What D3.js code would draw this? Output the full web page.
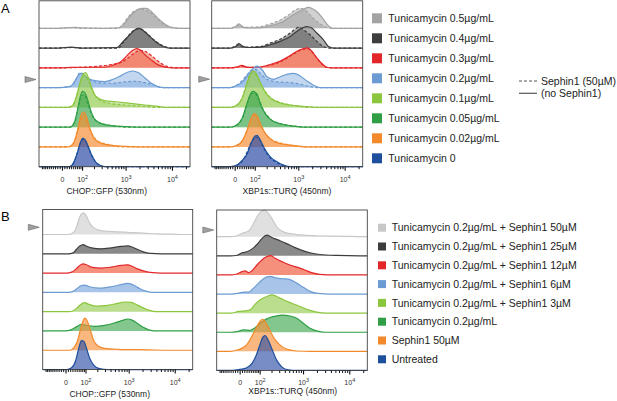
<!DOCTYPE html>
<html>
<head>
<meta charset="utf-8">
<script src="https://cdn.jsdelivr.net/npm/d3@7"></script>
<style>
body { margin: 0; background: #fff; }
svg { display: block; font-family: "Liberation Sans", Arial, sans-serif; }
</style>
</head>
<body>
<svg id="chart" width="617" height="401"></svg>
<script>
// legend labels
const labelsA = ["Tunicamycin 0.5µg/mL", "Tunicamycin 0.4µg/mL", "Tunicamycin 0.3µg/mL", "Tunicamycin 0.2µg/mL",
  "Tunicamycin 0.1µg/mL", "Tunicamycin 0.05µg/mL", "Tunicamycin 0.02µg/mL", "Tunicamycin 0"];
const labelsB = ["Tunicamycin 0.2µg/mL + Sephin1 50µM", "Tunicamycin 0.2µg/mL + Sephin1 25µM",
  "Tunicamycin 0.2µg/mL + Sephin1 12µM", "Tunicamycin 0.2µg/mL + Sephin1 6µM",
  "Tunicamycin 0.2µg/mL + Sephin1 3µM", "Tunicamycin 0.2µg/mL", "Sephin1 50µM", "Untreated"];
const styleLabels = ["Sephin1 (50µM)", "(no Sephin1)"];

// axis ticks (raw fluorescence)
const majorTicks = [0, 100, 1000, 10000];
const majorLabels = [["0", ""], ["10", "2"], ["10", "3"], ["10", "4"]];
const minorTicks = [-100, -90, -80, -70, -60, -50, -40, -30, -20, -10, 10, 20, 30, 40, 50, 60, 70, 80, 90,
  200, 300, 400, 500, 600, 700, 800, 900, 2000, 3000, 4000, 5000, 6000, 7000, 8000, 9000, 20000];
const xDomain = [-120, 24500];

// histograms: [fluorescence, height in row units], one list per row, top to bottom
const chopA_solid = [
  [[-16,0],[27,0.03],[59,0.05],[97,0.02],[350,0],[690,0.02],[890,0.17],[1140,0.5],[1580,0.84],[2200,1.01],[2820,1.01],[3610,0.84],[5020,0.5],[6980,0.22],[9730,0.05],[16000,0]],
  [[-16,0],[42,0.05],[97,0],[640,0.02],[890,0.34],[1230,0.67],[1580,0.92],[1930,1.01],[2390,0.89],[3320,0.59],[4620,0.29],[6430,0.08],[8950,0]],
  [[-16,0],[42,0.02],[146,0.03],[354,0.03],[585,0.17],[816,0.34],[1046,0.59],[1340,0.84],[1717,0.97],[2025,0.92],[2594,0.67],[3606,0.39],[5023,0.15],[7585,0.03],[9727,0]],
  [[-16,0],[34,0.05],[59,0.34],[77,0.62],[97,0.72],[119,0.59],[160,0.42],[229,0.34],[354,0.3],[538,0.42],[816,0.62],[1136,0.79],[1456,0.84],[1866,0.76],[2594,0.5],[3606,0.22],[5023,0.05],[6982,0]],
  [[27,0],[50,0.12],[68,0.59],[87,1.26],[108,1.68],[124,1.76],[146,1.51],[176,1.01],[210,0.62],[273,0.42],[354,0.34],[585,0.29],[1136,0.22],[2594,0.12],[5023,0.05],[7585,0]],
  [[34,0],[55,0.22],[73,0.89],[89,1.56],[104,1.81],[119,1.73],[140,1.39],[170,0.81],[210,0.39],[298,0.18],[494,0.08],[963,0.03],[1866,0]],
  [[27,0],[50,0.17],[68,0.67],[83,1.26],[97,1.68],[112,1.76],[132,1.51],[160,0.92],[193,0.5],[250,0.25],[419,0.1],[963,0.03],[1866,0]],
  [[34,0],[50,0.17],[68,0.59],[87,1.17],[104,1.43],[119,1.38],[146,1.01],[176,0.59],[217,0.25],[273,0.07],[354,0]]
];
const chopA_dashed = [
  [[-16,0],[42,0.03],[97,0],[692,0],[887,0.22],[1234,0.67],[1717,0.92],[2198,0.96],[3062,0.87],[4256,0.59],[5916,0.29],[8241,0.08],[13521,0]],
  [[-16,0],[42,0.03],[97,0],[692,0],[930,0.34],[1300,0.76],[1717,0.96],[2130,0.96],[2818,0.76],[3917,0.45],[5450,0.2],[7585,0.05],[9727,0]],
  [[-16,0],[77,0.02],[250,0.08],[494,0.17],[816,0.29],[1136,0.5],[1581,0.76],[2025,0.89],[2594,0.84],[3606,0.62],[5023,0.34],[6982,0.12],[9727,0.02],[12440,0]],
  [[-16,0],[42,0.08],[68,0.5],[87,0.76],[108,0.67],[146,0.45],[250,0.25],[494,0.22],[963,0.29],[1581,0.32],[2594,0.25],[4256,0.12],[5916,0]],
  [[27,0],[50,0.15],[73,0.76],[97,1.43],[119,1.63],[146,1.34],[193,0.76],[250,0.42],[419,0.22],[963,0.12],[2594,0.05],[5023,0]],
  [[34,0],[59,0.3],[77,1.06],[97,1.59],[115,1.64],[140,1.22],[176,0.64],[250,0.25],[494,0.08],[1340,0]],
  [[27,0],[55,0.25],[73,0.76],[91,1.34],[108,1.59],[132,1.34],[170,0.76],[229,0.34],[419,0.12],[963,0]],
  [[34,0],[55,0.25],[73,0.76],[93,1.26],[110,1.38],[132,1.21],[160,0.76],[203,0.34],[273,0.07],[385,0]]
];
const xbpA_solid = [
  [[-19,0],[4,0.08],[17,0.22],[31,0.12],[47,0.02],[93,0.02],[170,0.05],[288,0.17],[478,0.34],[669,0.59],[932,0.79],[1294,0.96],[1662,1.06],[2127,0.96],[2728,0.76],[3492,0.45],[4477,0.12],[5730,0]],
  [[-19,0],[4,0.08],[17,0.22],[31,0.12],[57,0.03],[140,0.05],[242,0.17],[405,0.34],[669,0.59],[932,0.84],[1192,1.01],[1530,1.09],[1960,1.01],[2512,0.76],[3492,0.42],[4477,0.08],[5730,0]],
  [[-19,0],[10,0.05],[31,0.12],[57,0.03],[115,0.02],[242,0.17],[405,0.34],[669,0.62],[932,0.84],[1294,0.97],[1581,1.01],[1960,0.84],[2512,0.5],[3218,0.22],[4120,0.03],[5280,0]],
  [[-19,0],[10,0.12],[31,0.25],[57,0.59],[83,0.92],[115,1.09],[154,0.92],[203,0.55],[288,0.42],[405,0.55],[566,0.67],[790,0.72],[1100,0.59],[1530,0.34],[2127,0.12],[2960,0]],
  [[-19,0],[10,0.12],[31,0.42],[52,1.09],[70,1.59],[87,1.85],[108,1.73],[140,1.26],[186,0.76],[263,0.42],[405,0.22],[669,0.12],[1294,0.05],[2512,0]],
  [[-19,0],[10,0.12],[31,0.42],[52,1.09],[70,1.59],[87,1.81],[115,1.68],[140,1.17],[186,0.67],[263,0.34],[405,0.17],[669,0.08],[1530,0]],
  [[-19,0],[17,0.12],[39,0.42],[59,0.92],[77,1.43],[97,1.68],[115,1.59],[146,1.09],[186,0.67],[263,0.34],[405,0.17],[858,0.07],[1530,0]],
  [[-19,0],[10,0.08],[31,0.3],[57,0.67],[77,1.17],[97,1.51],[115,1.59],[140,1.34],[186,0.84],[242,0.5],[342,0.25],[478,0.08],[669,0]]
];
const xbpA_dashed = [
  [[-19,0],[17,0.17],[39,0.05],[140,0.08],[242,0.22],[405,0.42],[616,0.67],[858,0.92],[1100,1.01],[1410,0.92],[1806,0.67],[2512,0.34],[3790,0.08],[5280,0]],
  [[-19,0],[17,0.17],[39,0.05],[140,0.08],[242,0.25],[405,0.45],[669,0.76],[858,0.96],[1013,1.06],[1294,0.92],[1806,0.67],[2512,0.34],[3492,0.08],[4477,0]],
  [[-19,0],[10,0.03],[31,0.08],[57,0.02],[242,0.13],[405,0.3],[669,0.59],[932,0.8],[1294,0.94],[1581,0.97],[1960,0.82],[2512,0.49],[3218,0.2],[4120,0.02],[5280,0]],
  [[-19,0],[10,0.13],[31,0.34],[57,0.67],[83,0.89],[104,0.92],[140,0.72],[203,0.42],[342,0.29],[669,0.25],[1100,0.17],[1806,0.05],[2512,0]],
  [[-19,0],[13,0.15],[36,0.59],[55,1.26],[73,1.68],[93,1.73],[119,1.51],[170,0.92],[242,0.5],[405,0.25],[858,0.08],[1806,0]],
  [[-19,0],[13,0.13],[39,0.59],[59,1.26],[77,1.68],[97,1.73],[127,1.43],[170,0.84],[242,0.42],[405,0.18],[858,0.05],[1530,0]],
  [[-19,0],[17,0.13],[42,0.5],[64,1.09],[83,1.51],[101,1.59],[127,1.31],[170,0.8],[242,0.42],[405,0.2],[858,0.05],[1530,0]],
  [[-19,0],[13,0.1],[39,0.37],[59,0.81],[83,1.31],[106,1.51],[130,1.43],[163,1.01],[221,0.54],[342,0.2],[566,0]]
];
const chopB = [
  [[12,0],[33,0.09],[48,0.34],[61,0.78],[75,1.07],[89,1.12],[106,0.95],[129,0.6],[157,0.38],[207,0.24],[293,0.17],[575,0.14],[1118,0.1],[2160,0.07],[4185,0.03],[8100,0.02],[15700,0]],
  [[12,0],[33,0.05],[48,0.22],[66,0.4],[85,0.48],[106,0.4],[143,0.31],[246,0.26],[412,0.31],[680,0.38],[947,0.41],[1214,0.34],[1554,0.22],[2160,0.09],[3010,0.02],[4940,0]],
  [[5,0],[26,0.05],[48,0.22],[66,0.4],[85,0.48],[106,0.43],[143,0.31],[246,0.26],[412,0.31],[680,0.4],[947,0.43],[1214,0.34],[1554,0.22],[2160,0.1],[3270,0.02],[4940,0]],
  [[12,0],[33,0.05],[54,0.22],[72,0.34],[95,0.38],[129,0.29],[225,0.22],[412,0.29],[680,0.4],[947,0.47],[1214,0.4],[1554,0.26],[2160,0.09],[3270,0]],
  [[12,0],[33,0.05],[54,0.22],[75,0.4],[95,0.47],[117,0.4],[190,0.29],[348,0.33],[575,0.43],[803,0.5],[1118,0.48],[1554,0.34],[2160,0.17],[3270,0.03],[4185,0]],
  [[-2,0],[26,0.07],[48,0.21],[75,0.34],[106,0.29],[173,0.24],[293,0.29],[486,0.41],[740,0.55],[947,0.62],[1214,0.55],[1554,0.38],[2160,0.17],[3010,0.03],[4185,0]],
  [[19,0],[37,0.14],[54,0.48],[70,1.09],[85,1.52],[95,1.66],[112,1.52],[137,1.0],[166,0.48],[207,0.22],[293,0.1],[575,0.05],[2550,0.02],[8100,0]],
  [[5,0],[26,0.09],[44,0.43],[61,1.12],[75,1.5],[89,1.47],[106,1.12],[129,0.6],[166,0.22],[225,0.05],[348,0]]
];
const xbpB = [
  [[-41,0],[-11,0.05],[10,0.17],[24,0.23],[39,0.3],[55,0.52],[73,0.87],[93,1.17],[115,1.34],[135,1.39],[160,1.27],[203,0.96],[263,0.52],[342,0.3],[478,0.17],[858,0.1],[1960,0.05],[7330,0.02],[19800,0]],
  [[-41,0],[-11,0.03],[10,0.16],[31,0.21],[55,0.35],[83,0.59],[115,0.9],[154,1.08],[203,0.96],[288,0.82],[440,0.64],[669,0.43],[1013,0.26],[1410,0.16],[2310,0.07],[5280,0.02],[16800,0]],
  [[-41,0],[-11,0.05],[10,0.17],[24,0.21],[39,0.12],[55,0.21],[83,0.52],[115,0.78],[154,0.96],[193,1.01],[242,0.87],[342,0.7],[520,0.52],[790,0.38],[1100,0.26],[1530,0.12],[2310,0.03],[4477,0]],
  [[-41,0],[-3,0.05],[17,0.1],[39,0.1],[64,0.31],[93,0.57],[127,0.8],[186,0.92],[263,0.83],[372,0.8],[520,0.75],[728,0.57],[1013,0.35],[1410,0.14],[2127,0.03],[3790,0]],
  [[-41,0],[-3,0.09],[24,0.12],[47,0.17],[73,0.47],[104,0.7],[154,0.87],[203,0.96],[263,0.87],[372,0.7],[566,0.52],[858,0.35],[1294,0.17],[1960,0.05],[3218,0]],
  [[-41,0],[-11,0.03],[17,0.12],[47,0.1],[73,0.24],[104,0.47],[154,0.7],[221,0.82],[342,0.9],[520,0.85],[728,0.73],[1013,0.47],[1410,0.21],[1960,0.07],[2960,0]],
  [[-41,0],[-11,0.07],[10,0.17],[31,0.35],[55,0.78],[83,1.3],[104,1.6],[119,1.68],[140,1.56],[179,1.13],[242,0.61],[342,0.26],[478,0.09],[728,0.02],[1410,0]],
  [[-41,0],[-11,0.03],[10,0.07],[31,0.14],[55,0.36],[79,0.8],[104,1.4],[122,1.75],[140,1.83],[160,1.66],[203,1.14],[263,0.54],[342,0.19],[478,0.03],[728,0]]
];

const colorsA = ["#a3a3a3", "#3d3d3d", "#e3262a", "#6b9bd2", "#8cc63f", "#2f9e44", "#f28a2c", "#1d4f9c"];
const fillsA = ["#9a9a9a", "#4a4a4a", "#ee5536", "#7aa6dd", "#96cb52", "#41a953", "#f7913a", "#2f4ea6"];
const colorsB = ["#c8c8c8"].concat(colorsA.slice(1));
const fillsB = ["#cfcfcf"].concat(fillsA.slice(1));

// logicle-like display transform (asinh)
const T = v => Math.asinh(v / 85.4) / Math.LN10 + Math.log10(42.7);

const svg = d3.select("#chart");

const panels = [
  { x: 39, top: 0.8, w: 151, base0: 28.3, step: 19.77, solid: chopA_solid, dashed: chopA_dashed,
    colors: colorsA, fills: fillsA, op: 0.45, title: "CHOP::GFP (530nm)", tx: 67.7, ty: 27, arrow: [30.5, 79.5] },
  { x: 211.7, top: 0.8, w: 151, base0: 28.3, step: 19.77, solid: xbpA_solid, dashed: xbpA_dashed,
    colors: colorsA, fills: fillsA, op: 0.45, title: "XBP1s::TURQ (450nm)", tx: 75.3, ty: 27.5, arrow: [204.2, 79.2] },
  { x: 42.7, top: 209.5, w: 150, base0: 234.5, step: 19.29, solid: chopB, dashed: null,
    colors: colorsB, fills: fillsB, op: 0.65, title: "CHOP::GFP (530nm)", tx: 67, ty: 27.5, arrow: [33.8, 227.3] },
  { x: 216.7, top: 210, w: 150.6, base0: 236.7, step: 19.11, solid: xbpB, dashed: null,
    colors: colorsB, fills: fillsB, op: 0.65, title: "XBP1s::TURQ (450nm)", tx: 76, ty: 24, arrow: [208.3, 230] }
];

panels.forEach(p => {
  const g = svg.append("g").attr("transform", `translate(${p.x},0)`);
  const xT = d3.scaleLinear().domain(xDomain.map(T)).range([0, p.w]);
  const x = v => xT(T(v));
  const bottom = p.base0 + p.step * 7;

  p.solid.forEach((pts, i) => {
    const base = p.base0 + p.step * i;
    const y = d3.scaleLinear().domain([0, 1]).range([base, base - p.step]);
    const area = d3.area().x(d => x(d[0])).y0(base).y1(d => y(d[1])).curve(d3.curveMonotoneX);
    const line = d3.line().x(d => x(d[0])).y(d => y(d[1])).curve(d3.curveMonotoneX);
    const sets = p.dashed ? [[p.dashed[i], "3,2"], [pts, null]] : [[pts, null]];
    const full = s => [[xDomain[0], 0]].concat(s, [[xDomain[1], 0]]);
    sets.forEach(([s]) => {
      g.append("path").datum(full(s)).attr("d", area)
        .attr("fill", p.fills[i]).attr("fill-opacity", p.op);
    });
    sets.forEach(([s, dash]) => {
      g.append("path").datum(full(s)).attr("d", line)
        .attr("fill", "none").attr("stroke", p.colors[i]).attr("stroke-width", 1.2)
        .attr("stroke-dasharray", dash);
    });
  });

  g.append("rect").attr("x", 0).attr("y", p.top).attr("width", p.w).attr("height", bottom - p.top)
    .attr("fill", "none").attr("stroke", "#444").attr("stroke-width", 0.9);

  g.append("g").attr("transform", `translate(0,${bottom})`)
    .call(d3.axisBottom(xT).tickValues(minorTicks.map(T)).tickSize(2.5).tickFormat(""))
    .call(a => a.select(".domain").remove())
    .call(a => a.selectAll("line").attr("stroke", "#111").attr("stroke-width", 1));

  const ax = g.append("g").attr("transform", `translate(0,${bottom})`)
    .call(d3.axisBottom(xT).tickValues(majorTicks.map(T)).tickSize(4).tickFormat(""))
    .call(a => a.select(".domain").remove())
    .call(a => a.selectAll("line").attr("stroke", "#111").attr("stroke-width", 1.1));
  ax.selectAll(".tick").append("text")
    .attr("y", 15).attr("fill", "#333").attr("font-size", 7).attr("text-anchor", "middle")
    .each(function (d, i) {
      const t = d3.select(this);
      t.append("tspan").text(majorLabels[i][0]);
      if (majorLabels[i][1]) t.append("tspan").attr("font-size", 5.5).attr("dy", -3).text(majorLabels[i][1]);
    });

  g.append("text").attr("x", p.tx).attr("y", bottom + p.ty).attr("text-anchor", "middle")
    .attr("font-size", 8.5).attr("fill", "#222").text(p.title);

  svg.append("path").attr("d", "M-5.5,-3L5.5,0L-5.5,3Z")
    .attr("transform", `translate(${p.arrow[0]},${p.arrow[1]})`)
    .attr("fill", "#a0a0a0").attr("stroke", "#666").attr("stroke-width", 0.6);
});

// legends
const legA = svg.append("g").selectAll("g").data(labelsA).join("g")
  .attr("transform", (d, i) => `translate(372,${18.3 + 20 * i})`);
legA.append("rect").attr("x", 0).attr("y", -5).attr("width", 10).attr("height", 10)
  .attr("fill", (d, i) => colorsA[i]);
legA.append("text").attr("x", 16.3).attr("y", 3.7).attr("font-size", 10.5).attr("fill", "#222").text(d => d);

const legB = svg.append("g").selectAll("g").data(labelsB).join("g")
  .attr("transform", (d, i) => `translate(378,${227.7 + 18.8 * i})`);
legB.append("rect").attr("x", 0).attr("y", -4).attr("width", 8).attr("height", 8)
  .attr("fill", (d, i) => colorsB[i]);
legB.append("text").attr("x", 13.7).attr("y", 3.7).attr("font-size", 10.5).attr("fill", "#222").text(d => d);

const legS = svg.append("g").selectAll("g").data(styleLabels).join("g")
  .attr("transform", (d, i) => `translate(519,${81 + 12.3 * i})`);
legS.append("line").attr("x1", 0).attr("x2", 18).attr("stroke", "#555").attr("stroke-width", 1.2)
  .attr("stroke-dasharray", (d, i) => i === 0 ? "3,2" : null);
legS.append("text").attr("x", 22).attr("y", 3.7).attr("font-size", 10.5).attr("fill", "#222").text(d => d);

svg.append("text").attr("x", 1).attr("y", 13).attr("font-size", 13).text("A");
svg.append("text").attr("x", 1).attr("y", 221).attr("font-size", 13).text("B");
</script>
</body>
</html>
